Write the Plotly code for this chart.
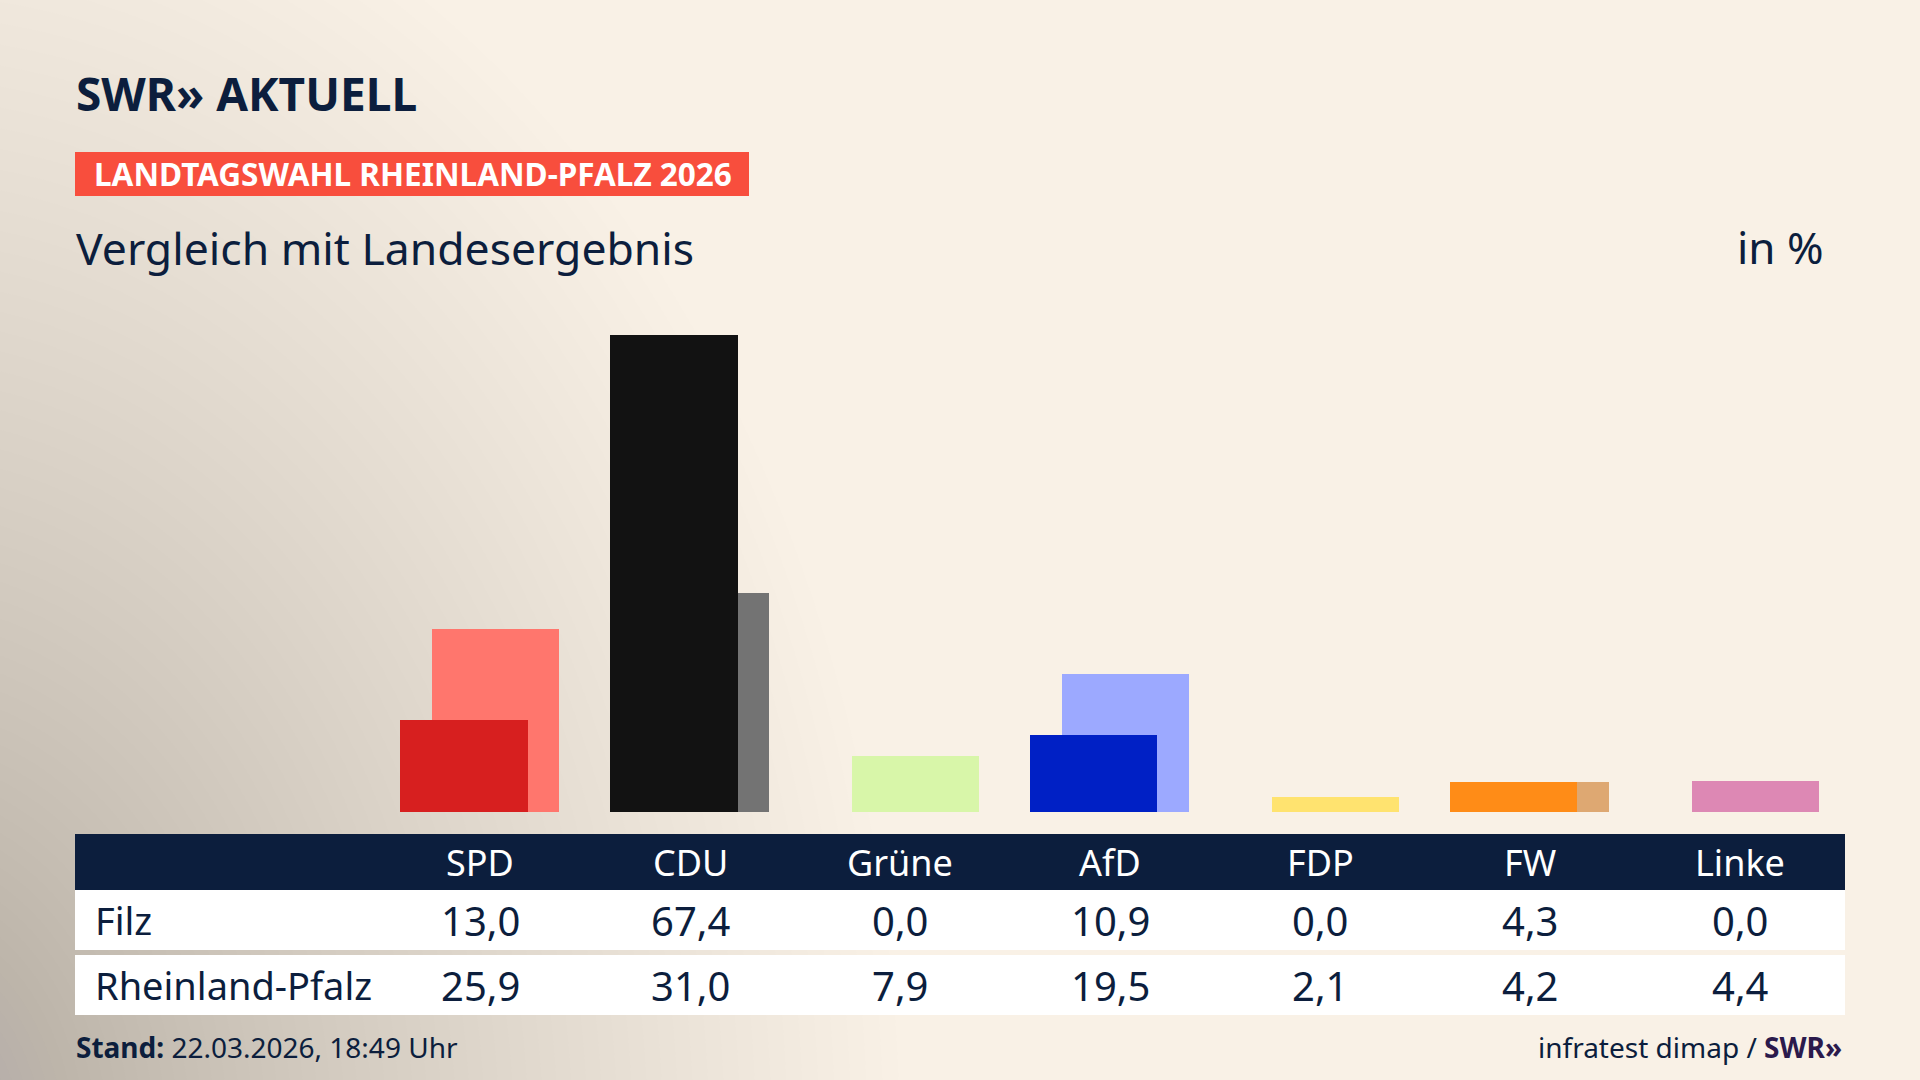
import plotly.graph_objects as go

# ---------------- data ----------------
parties = ["SPD", "CDU", "Grüne", "AfD", "FDP", "FW", "Linke"]
filz = [13.0, 67.4, 0.0, 10.9, 0.0, 4.3, 0.0]
land = [25.9, 31.0, 7.9, 19.5, 2.1, 4.2, 4.4]
row_labels = ["Filz", "Rheinland-Pfalz"]
filz_colors = ["#D71F1F", "#121212", "#3C9A2F", "#0020C5", "#FFD500", "#FF8C17", "#C2306F"]
land_colors = ["#FF766D", "#737373", "#D8F6A9", "#9CA9FF", "#FFE36F", "#DEA872", "#DD88B4"]

W, H = 1920, 1080
NAVY = "#0C1E3D"
CREAM = "#F9F1E6"
FONT = "Noto Sans"


def px(x):
    return x / W


def py(y):
    return 1 - y / H


def fmt(v):
    return f"{v:.1f}".replace(".", ",")


fig = go.Figure()

bar_w = 0.605
fig.add_trace(go.Bar(x=parties, y=land, marker=dict(color=land_colors, line=dict(width=0)),
                     width=bar_w, offset=-0.2275, name="Rheinland-Pfalz", hoverinfo="skip"))
fig.add_trace(go.Bar(x=parties, y=filz, marker=dict(color=filz_colors, line=dict(width=0)),
                     width=bar_w, offset=-0.379, name="Filz", hoverinfo="skip"))

shapes = []
# soft grey shading from the lower-left corner (stack of translucent ellipses)
N = 80
cx, cy, RX, RY = -100, 1150, 1000, 1350
for i in range(N, 0, -1):
    f = (i / N) ** 1.3
    rx, ry = RX * f, RY * f
    shapes.append(dict(type="circle", xref="paper", yref="paper",
                       x0=px(cx - rx), x1=px(cx + rx), y0=py(cy + ry), y1=py(cy - ry),
                       fillcolor="rgba(155,154,152,0.011)", line=dict(width=0), layer="below"))

# red banner
shapes.append(dict(type="rect", xref="paper", yref="paper", x0=px(75), x1=px(749),
                   y0=py(196), y1=py(152), fillcolor="#F84E3D", line=dict(width=0), layer="below"))
# table
tx0, tx1 = px(75), px(1845)
shapes.append(dict(type="rect", xref="paper", yref="paper", x0=tx0, x1=tx1,
                   y0=py(890), y1=py(834), fillcolor=NAVY, line=dict(width=0), layer="below"))
shapes.append(dict(type="rect", xref="paper", yref="paper", x0=tx0, x1=tx1,
                   y0=py(950), y1=py(890), fillcolor="#FFFFFF", line=dict(width=0), layer="below"))
shapes.append(dict(type="rect", xref="paper", yref="paper", x0=tx0, x1=tx1,
                   y0=py(1015), y1=py(955), fillcolor="#FFFFFF", line=dict(width=0), layer="below"))

ann = []
# logo
ann.append(dict(text="<b>SWR» AKTUELL</b>", x=px(74), y=py(93), xref="paper", yref="paper",
                xanchor="left", yanchor="middle", showarrow=False,
                font=dict(family=FONT, size=46, color=NAVY)))
ann.append(dict(text="<b>LANDTAGSWAHL RHEINLAND-PFALZ 2026</b>", x=px(92), y=py(174),
                xref="paper", yref="paper", xanchor="left", yanchor="middle", showarrow=False,
                font=dict(family=FONT, size=31.5, color="#FFFFFF")))
ann.append(dict(text="Vergleich mit Landesergebnis", x=px(74), y=py(247), xref="paper", yref="paper",
                xanchor="left", yanchor="middle", showarrow=False,
                font=dict(family=FONT, size=44.5, color=NAVY)))
ann.append(dict(text="in %", x=px(1826), y=py(247), xref="paper", yref="paper",
                xanchor="right", yanchor="middle", showarrow=False,
                font=dict(family=FONT, size=44, color=NAVY)))

# table header + values
for i, p in enumerate(parties):
    ann.append(dict(text=p, x=p, y=py(862), xref="x", yref="paper", xanchor="center",
                    yanchor="middle", showarrow=False,
                    font=dict(family=FONT, size=36, color="#FFFFFF")))
    ann.append(dict(text=fmt(filz[i]), x=p, y=py(920), xref="x", yref="paper", xanchor="center",
                    yanchor="middle", showarrow=False,
                    font=dict(family=FONT, size=40, color=NAVY)))
    ann.append(dict(text=fmt(land[i]), x=p, y=py(985), xref="x", yref="paper", xanchor="center",
                    yanchor="middle", showarrow=False,
                    font=dict(family=FONT, size=40, color=NAVY)))
for lbl, yy in zip(row_labels, [920, 985]):
    ann.append(dict(text=lbl, x=px(93), y=py(yy), xref="paper", yref="paper", xanchor="left",
                    yanchor="middle", showarrow=False,
                    font=dict(family=FONT, size=38, color=NAVY)))

# footer
ann.append(dict(text="<b>Stand:</b> 22.03.2026, 18:49 Uhr", x=px(74), y=py(1047), xref="paper",
                yref="paper", xanchor="left", yanchor="middle", showarrow=False,
                font=dict(family=FONT, size=28, color=NAVY)))
ann.append(dict(text="infratest dimap / <b><span style='color:#2B1A4C'>SWR»</span></b>", x=px(1844),
                y=py(1047), xref="paper", yref="paper", xanchor="right", yanchor="middle",
                showarrow=False, font=dict(family=FONT, size=28, color=NAVY)))

fig.update_layout(
    width=W, height=H, margin=dict(l=0, r=0, t=0, b=0),
    paper_bgcolor=CREAM, plot_bgcolor="rgba(0,0,0,0)",
    barmode="overlay", showlegend=False, bargap=0,
    shapes=shapes, annotations=ann,
    xaxis=dict(domain=[px(75), px(1845)], range=[-1.929, 6.5], showticklabels=False,
               showgrid=False, zeroline=False, showline=False, ticks="", fixedrange=True),
    yaxis=dict(domain=[py(812), py(317)], range=[0, 70], showticklabels=False,
               showgrid=False, zeroline=False, showline=False, ticks="", fixedrange=True),
)

fig.write_html("out.html", config={"displayModeBar": False},
               post_script="document.body.style.margin='0';document.body.style.overflow='hidden';")
